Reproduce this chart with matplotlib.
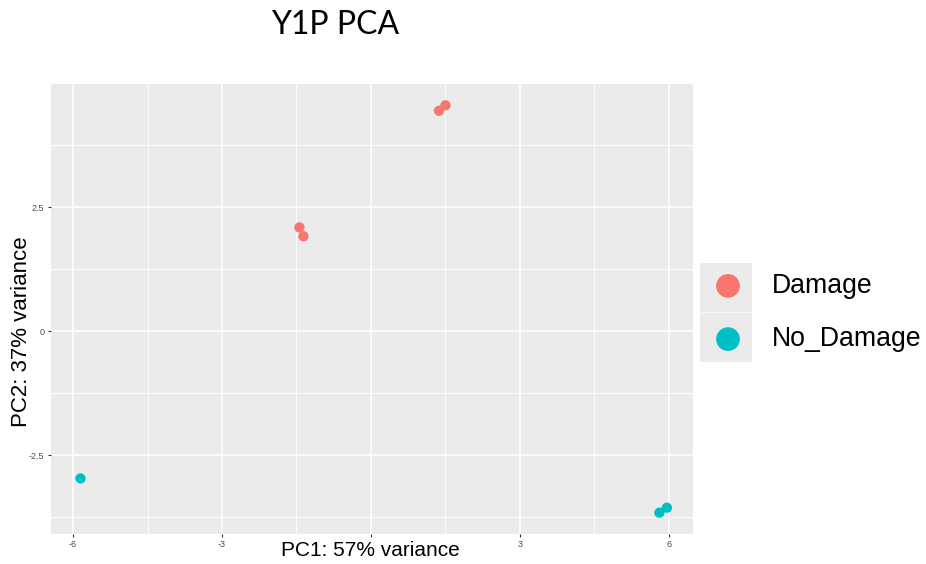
import numpy as np
import matplotlib
matplotlib.use("Agg")
import matplotlib.pyplot as plt
from matplotlib.patches import Rectangle

# ============================================
# Y1P PCA - ggplot style scatter
# ============================================

# PC scores
damage_pc1 = [1.37, 1.50, -1.44, -1.36]
damage_pc2 = [4.44, 4.55, 2.09, 1.91]
nodamage_pc1 = [-5.85, 5.81, 5.96]
nodamage_pc2 = [-2.97, -3.66, -3.56]

groups = ["Damage", "No_Damage"]
colors = ["#F8766D", "#00BFC4"]

x_ticks = [-6, -3, 0, 3, 6]
x_tick_labels = ["-6", "-3", "", "3", "6"]  # the "0" sits under the axis title
y_ticks = [-2.5, 0, 2.5]
y_tick_labels = ["-2.5", "0", "2.5"]

W, H = 926, 564
fig = plt.figure(figsize=(W / 100, H / 100), dpi=100)
plt.rcParams["font.family"] = ["Liberation Sans", "DejaVu Sans"]

# panel placement (pixels from the reference)
left, right, top, bottom = 50.7, 692.7, 84, 534
ax = fig.add_axes([left / W, 1 - bottom / H, (right - left) / W, (bottom - top) / H])
ax.set_facecolor("#EBEBEB")
for s in ax.spines.values():
    s.set_visible(False)

ax.set_xlim(-6.45, 6.48)
ax.set_ylim(-4.09, 4.98)

ax.set_xticks(x_ticks)
ax.set_xticks(np.arange(-4.5, 6, 3), minor=True)
ax.set_yticks(y_ticks)
ax.set_yticks([-3.75, -1.25, 1.25, 3.75], minor=True)
ax.set_xticklabels(x_tick_labels)
ax.set_yticklabels(y_tick_labels)

ax.grid(which="major", color="white", linewidth=1.1)
ax.grid(which="minor", color="white", linewidth=0.6)
ax.set_axisbelow(True)
ax.tick_params(which="major", length=2.5, width=0.8, color="#333333",
               labelsize=6.5, labelcolor="#4D4D4D", pad=2)
ax.tick_params(which="minor", length=0)

sc1 = ax.scatter(damage_pc1, damage_pc2, s=55, color=colors[0], edgecolors="none",
                 label=groups[0], zorder=3)
sc2 = ax.scatter(nodamage_pc1, nodamage_pc2, s=55, color=colors[1], edgecolors="none",
                 label=groups[1], zorder=3)

# legend key background (ggplot grey keys)
key_bg = Rectangle((700 / W, 1 - 362 / H), 52 / W, 99 / H, transform=fig.transFigure,
                   facecolor="#EBEBEB", edgecolor="none", zorder=0)
fig.patches.append(key_bg)
fig.add_artist(plt.Line2D([700 / W, 752 / W], [1 - 312 / H, 1 - 312 / H],
                          transform=fig.transFigure, color="#F5F5F5", lw=1))

leg = fig.legend(handles=[sc1, sc2], loc="center left",
                 bbox_to_anchor=(702 / W, 1 - 312.5 / H), frameon=False,
                 fontsize=19.2, markerscale=2.3, handlelength=1.95,
                 handletextpad=0.66, labelspacing=1.02, borderpad=0,
                 borderaxespad=0, scatterpoints=1)

# axis titles, pasted over the tick labels like in the original
fig.text(370 / W, 1 - 551 / H, "PC1: 57% variance", fontsize=15, ha="center",
         va="center", bbox=dict(facecolor="white", edgecolor="none", pad=1), zorder=5)
fig.text(22 / W, 1 - 332 / H, "PC2: 37% variance", fontsize=16, ha="center",
         va="center", rotation=90,
         bbox=dict(facecolor="white", edgecolor="none", pad=1), zorder=5)

fig.text(335 / W, 1 - 25 / H, "Y1P PCA", fontsize=23, ha="center", va="center",
         family=["Lato", "DejaVu Sans"])

fig.savefig("out.png", dpi=100)
